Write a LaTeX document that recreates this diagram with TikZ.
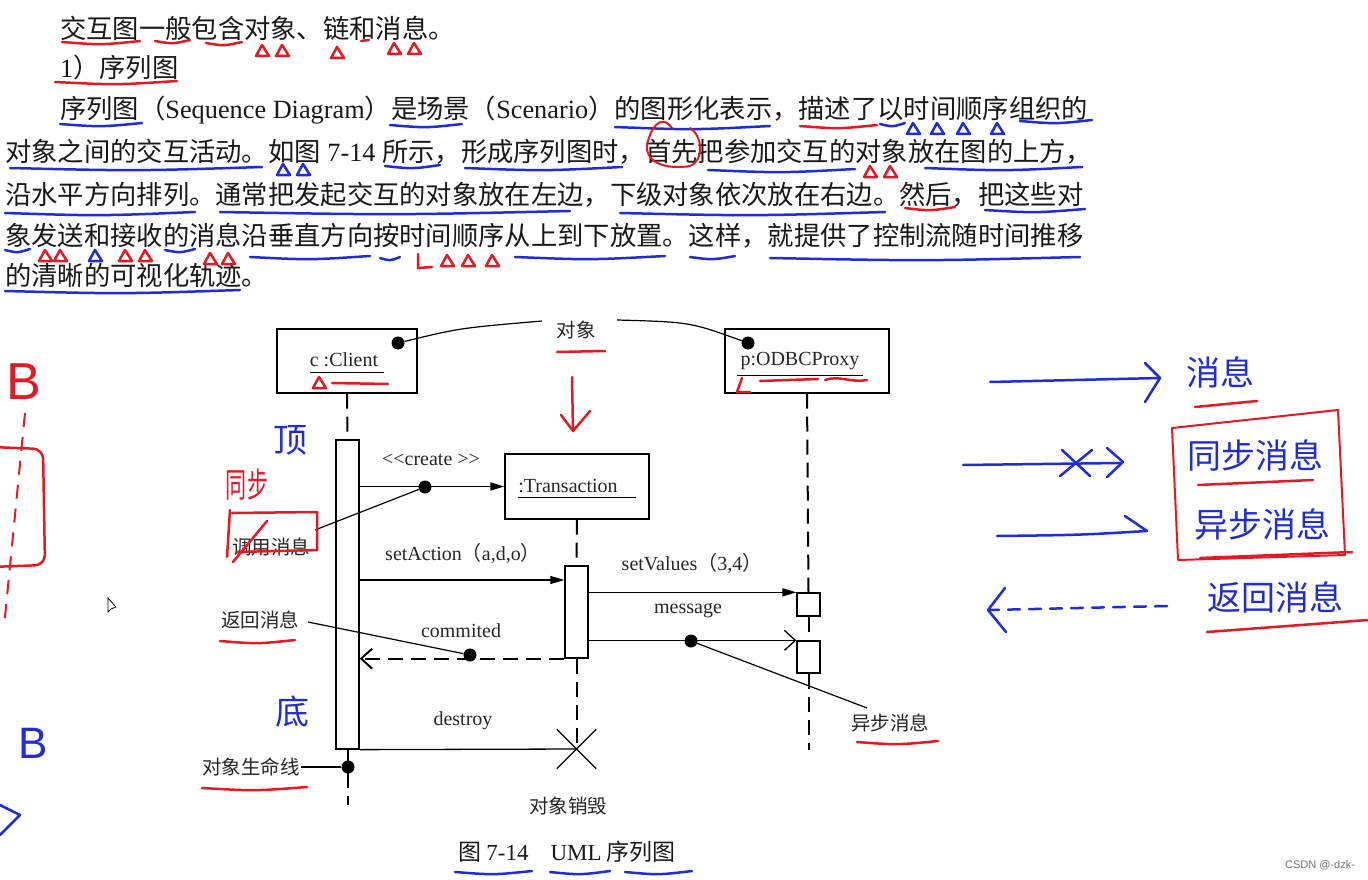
\documentclass[tikz,border=0pt]{standalone}
\usepackage{fontspec}
\usepackage{graphicx}
\setmainfont{Liberation Serif}
\newfontfamily\cj{Noto Sans CJK SC}
\newfontfamily\sa{Liberation Sans}
\usetikzlibrary{arrows.meta,shapes.misc}
\definecolor{hred}{RGB}{230,25,35}
\definecolor{hblue}{RGB}{30,45,215}
\newcommand\latn[1]{{\rmfamily #1}}
\newcommand\uln[4]{\draw[#1] (#2,#4) .. controls ({(#2+#3)/2},{#4+3}) .. (#3,{#4-1});}
\newcommand\tri[3]{\draw[#1] (#2,#3) -- ++(-6,11) -- ++(13,0) -- cycle;}
\tikzset{
 body/.style={anchor=west, inner sep=0pt, font=\fontsize{26.3}{30}\selectfont\cj, text=black!90},
 lbl/.style={inner sep=1pt, font=\fontsize{19.5}{22}\selectfont\cj, text=black!85},
 lat/.style={inner sep=1pt, font=\fontsize{20}{22}\selectfont, text=black!85},
 obj/.style={draw, line width=1.3pt, inner sep=0pt},
 life/.style={line width=2pt, dash pattern=on 15pt off 8pt},
 act/.style={draw, line width=1.3pt, fill=white, inner sep=0pt, minimum width=23pt},
 msg/.style={line width=1.3pt, -{Triangle[length=14pt,width=8pt]}},
 amsg/.style={line width=1.3pt, -{Straight Barb[length=11pt,width=20pt]}},
 ret/.style={line width=2pt, dash pattern=on 15pt off 8pt, -{Straight Barb[length=11pt,width=20pt]}},
 note/.style={line width=1.2pt},
 dot/.style={circle, fill=black, inner sep=0pt, minimum size=13pt},
 hr/.style={draw=hred, line width=2.5pt, line cap=round, line join=round},
 hb/.style={draw=hblue, line width=2.5pt, line cap=round, line join=round},
 hbt/.style={text=hblue, inner sep=0pt, font=\fontsize{34}{36}\selectfont\cj},
 hrt/.style={text=hred, inner sep=0pt, font=\fontsize{34}{36}\selectfont\cj},
}
\begin{document}
\begin{tikzpicture}[x=1pt,y=-1pt]
\fill[white] (0,0) rectangle (1368,880);
\useasboundingbox (0,0) rectangle (1368,880);

% ---------------- body text ----------------
\node[body] (t1) at (60,28) {交互图一般包含对象、链和消息。};
\node[body] (t2) at (60,68) {\latn{1}）序列图};
\node[body] (t3) at (60,110) {序列图（\latn{Sequence Diagram}）是场景（\latn{Scenario}）的图形化表示，描述了以时间顺序组织的};
\node[body] (t4) at (5,152) {对象之间的交互活动。如图\latn{ 7-14 }所示，形成序列图时，首先把参加交互的对象放在图的上方，};
\node[body] (t5) at (5,195) {沿水平方向排列。通常把发起交互的对象放在左边，下级对象依次放在右边。然后，把这些对};
\node[body] (t6) at (5,236) {象发送和接收的消息沿垂直方向按时间顺序从上到下放置。这样，就提供了控制流随时间推移};
\node[body] (t7) at (5,276) {的清晰的可视化轨迹。};

% ---------------- hand marks on body ----------------
\uln{hr}{62}{140}{42}\uln{hr}{155}{190}{41}\uln{hr}{206}{242}{43}
\tri{hr}{262}{45}\tri{hr}{282}{45}\tri{hr}{337}{47}
\draw[hr] (361,41) -- (369,40);
\tri{hr}{394}{43}\tri{hr}{414}{43}
\uln{hr}{55}{177}{82}
\uln{hb}{60}{142}{124}\uln{hb}{390}{462}{125}\uln{hb}{615}{770}{127}
\uln{hr}{800}{877}{126}\uln{hb}{880}{905}{124}
\tri{hb}{913}{123}\tri{hb}{937}{123}\tri{hb}{963}{123}\tri{hb}{997}{123}
\uln{hb}{1020}{1092}{121}
\uln{hb}{10}{262}{168}\tri{hb}{283}{164}\tri{hb}{303}{164}
\uln{hb}{385}{440}{166}\uln{hb}{465}{622}{168}
\draw[hr, line width=2pt] (672,128) .. controls (660,112) and (650,130) .. (647,145) .. controls (645,162) and (665,170) .. (690,166) .. controls (705,160) and (702,135) .. (690,128);
\uln{hb}{708}{855}{170}\tri{hr}{870}{166}\tri{hr}{890}{166}\uln{hb}{925}{1082}{168}
\uln{hb}{5}{195}{213}\uln{hb}{220}{570}{212}\uln{hb}{620}{885}{213}
\uln{hr}{905}{955}{208}\uln{hb}{985}{1085}{210}
\uln{hb}{5}{30}{250}\tri{hr}{45}{250}\tri{hr}{60}{250}\tri{hb}{95}{250}
\tri{hr}{125}{250}\tri{hr}{145}{250}\uln{hb}{165}{195}{250}
\tri{hr}{210}{253}\tri{hr}{228}{253}
\uln{hb}{250}{370}{257}\uln{hb}{380}{400}{258}
\draw[hr] (418,254) -- (418,268) -- (432,267);
\tri{hr}{447}{255}\tri{hr}{468}{255}\tri{hr}{492}{255}
\uln{hb}{515}{665}{257}\uln{hb}{690}{735}{257}\uln{hb}{770}{1080}{258}
\uln{hb}{5}{240}{291}

% ---------------- objects ----------------
\node[obj, minimum width=140pt, minimum height=64pt] (client) at (347,361) {};
\node[lat] (clientl) at (344,360) {c :Client};
\draw[line width=1pt] (310,372) -- (384,372);
\node[obj, minimum width=164pt, minimum height=64pt] (odbc) at (807,361) {};
\node[lat] (odbcl) at (800,361) {p:ODBCProxy};
\draw[line width=1pt] (737,375) -- (863,375);
\node[obj, minimum width=144pt, minimum height=65pt] (trans) at (577,486.5) {};
\node[lat] (transl) at (568,486) {:Transaction};
\draw[line width=1pt] (518,497) -- (636,497);

% activations
\node[act, minimum height=309pt] (cbar) at (347.5,594.5) {};
\node[act, minimum height=92pt] (tbar) at (576.5,612) {};
\node[act, minimum height=23pt] (ob1) at (808.5,604.5) {};
\node[act, minimum height=32pt] (ob2) at (808.5,657) {};
\coordinate (cend) at (347.5,805);
\coordinate (oend) at (808.5,750);
\node[cross out, draw, line width=1.3pt, minimum size=38pt, inner sep=0pt] (xx) at (576.5,749) {};

% lifelines
\draw[life] (client.south) -- (cbar.north);
\draw[life] (cbar.south) -- (cend);
\draw[life] (trans.south) -- (tbar.north);
\draw[life] (tbar.south) -- (xx.center);
\draw[life] (odbc.south) -- (ob1.north);
\draw[life] (ob1.south) -- (ob2.north);
\draw[life] (ob2.south) -- (oend);

% messages
\coordinate (ysa) at (0,580);
\draw[msg] (trans.west -| cbar.east) -- (trans.west);
\draw[msg] (cbar.east |- ysa) -- (tbar.west |- ysa);
\draw[msg] (ob1.north west -| tbar.east) -- (ob1.north west);
\draw[amsg] (ob2.north west -| tbar.east) -- (ob2.north west);
\draw[ret] (tbar.south west) -- (tbar.south west -| cbar.east);
\draw[line width=1.3pt] (cbar.south east) -- (xx.center);

% message labels
\node[lat] (lcreate) at (431,460) {<\kern0pt<create >\kern0pt>};
\node[lat] (lsetA) at (463,553) {setAction{\cj （}a,d,o{\cj ）}};
\node[lat] (lsetV) at (692,563) {setValues{\cj （}3,4{\cj ）}};
\node[lat] (lmsg) at (688,611) {message};
\node[lat] (lcom) at (461,631) {commited};
\node[lat] (ldes) at (463,721) {destroy};

% annotations
\node[lbl] (aobj) at (576,330) {对象};
\node[dot] (cdot) at (398,343) {};
\node[dot] (odot) at (748,343) {};
\coordinate (aobjl) at (542,321);
\coordinate (aobjr) at (617,320);
\draw[note] (cdot) .. controls (460,328) .. (aobjl);
\draw[note] (aobjr) .. controls (690,322) .. (odot);

\node[lbl] (acall) at (271,547) {调用消息};
\node[dot] (d1) at (425,487) {};
\coordinate (acalle) at (315,530);
\draw[note] (acalle) -- (d1);

\node[lbl] (aret) at (260,620) {返回消息};
\node[dot] (d2) at (470,655) {};
\coordinate (arete) at (308,622);
\draw[note] (arete) -- (d2);

\node[lbl] (aasy) at (890,723) {异步消息};
\node[dot] (d3) at (691,641) {};
\coordinate (aasyw) at (867,708);
\draw[note] (d3) -- (aasyw);

\node[lbl] (alife) at (251,767) {对象生命线};
\node[dot] (d4) at (348,767) {};
\draw[note] (alife.east) -- (d4);

\node[lbl] (adest) at (568,806) {对象销毁};

\node[inner sep=0pt, font=\fontsize{23}{26}\selectfont\cj, text=black!90] (cap) at (567,852) {图 \latn{7-14}\hspace{22pt}\latn{UML} 序列图};

% ---------------- hand marks on the figure ----------------
\tri{hr}{319}{377}\draw[hr] (332,383) -- (388,384);
\draw[hr] (557,352) -- (605,351);
\draw[hr] (572,377) -- (573,431);
\draw[hr] (561,415) -- (573,431) -- (590,411);
\draw[hr] (742,378) -- (737,392) -- (750,392);
\draw[hr] (760,381) -- (818,379);
\draw[hr] (825,380) .. controls (840,375) and (850,383) .. (867,380);
\node[hbt] (hding) at (290,440) {顶};
\node[hrt] (htong) at (247,485) {\scalebox{0.62}[1]{同步}};
\draw[hr] (230,510) -- (227,557);
\draw[hr] (232,513) -- (317,512) -- (317,550) -- (237,552);
\draw[hr] (233,562) -- (267,521);
\uln{hr}{220}{295}{641}
\node[hbt] (hdi) at (292,712) {底};
\uln{hr}{202}{307}{788}
\uln{hr}{857}{938}{742}
\uln{hb}{455}{532}{872}\uln{hb}{550}{610}{872}\uln{hb}{625}{692}{872}

% left margin
\node[text=hred, inner sep=0pt, font=\fontsize{52}{52}\selectfont\sa] (hB1) at (24,382) {B};
\draw[draw=hred, line width=2pt, dash pattern=on 14pt off 10pt] (25,413) -- (4,627);
\draw[hr, rounded corners=10pt] (-10,447) -- (43,449) -- (45,565) -- (-10,567);
\node[text=hblue, inner sep=0pt, font=\fontsize{44}{44}\selectfont\sa] (hB2) at (33,743) {B};
\draw[hb] (0,805) -- (20,815) -- (0,835);
\draw[black, line width=0.8pt, fill=white] (108,598) -- (108,612) -- (111,609) -- (116,607) -- cycle;

% right side legend
\draw[hb] (990,382) -- (1160,378);
\draw[hb] (1145,363) -- (1160,378) -- (1145,402);
\node[hbt] (hx1) at (1220,372) {消息};
\draw[hr] (1195,407) -- (1257,401);
\draw[hb] (963,465) -- (1120,463);
\draw[hb] (1062,450) -- (1090,476);
\draw[hb] (1060,476) -- (1092,450);
\draw[hb] (1107,448) -- (1123,462) -- (1107,477);
\node[hbt] (hx2) at (1255,455) {同步消息};
\draw[hr] (1198,485) -- (1313,480);
\draw[hb] (997,536) .. controls (1080,535) .. (1147,531);
\draw[hb] (1125,516) -- (1147,531);
\node[hbt] (hx3) at (1262,524) {异步消息};
\draw[hr] (1200,558) -- (1352,552);
\draw[hr, line width=2pt] (1172,428) -- (1338,410) -- (1345,555) -- (1178,560) -- cycle;
\draw[hb, dash pattern=on 12pt off 9pt] (1167,606) -- (990,610);
\draw[hb] (1005,588) -- (988,610) -- (1006,632);
\node[hbt] (hx4) at (1275,597) {返回消息};
\draw[hr] (1207,632) -- (1368,620);

\node[font=\fontsize{11}{12}\selectfont\sa, text=black!55, inner sep=0pt] (wm) at (1320,865) {CSDN @-dzk-};
\end{tikzpicture}
\end{document}
